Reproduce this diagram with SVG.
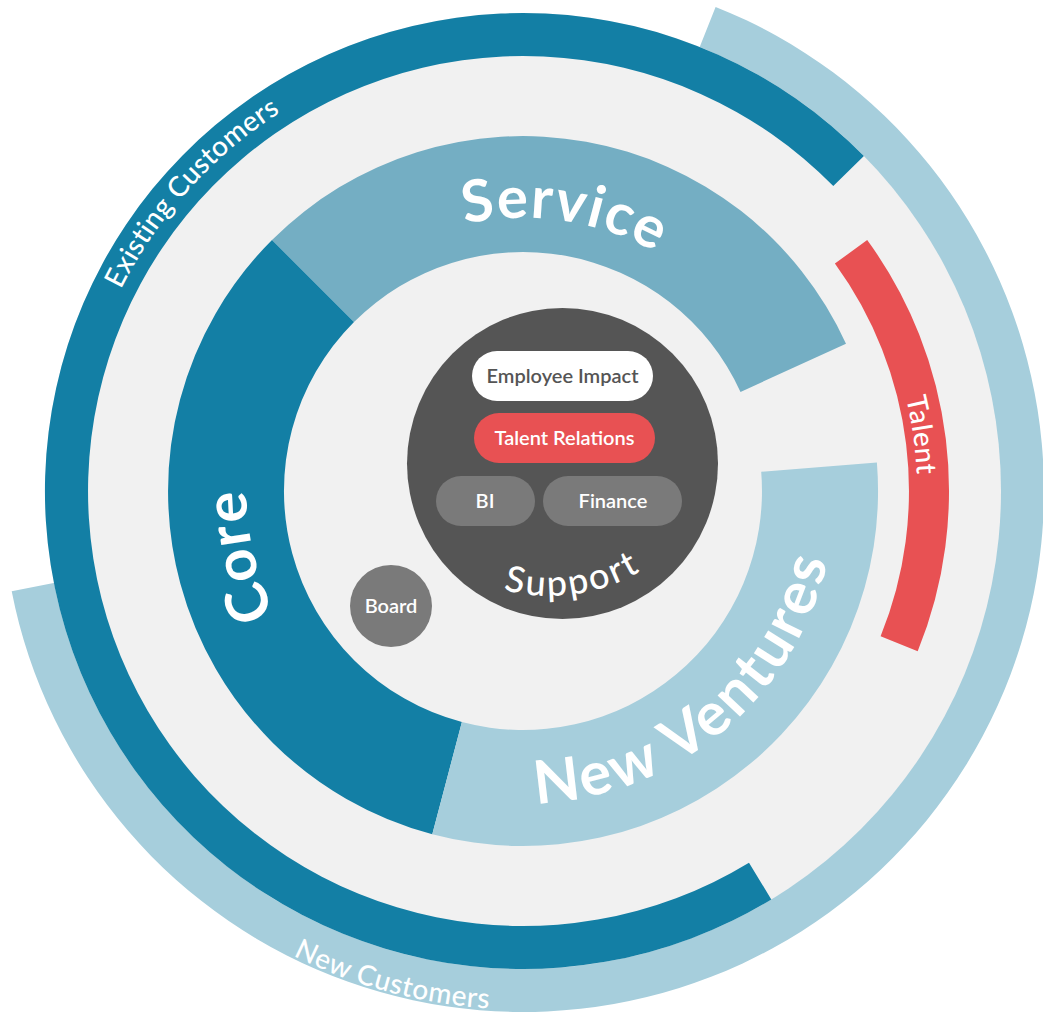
<svg xmlns="http://www.w3.org/2000/svg" width="1043" height="1013" viewBox="0 0 1043 1013">
<style>
text{font-family:Lato,"Liberation Sans",sans-serif;fill:#fff}
.big{font-weight:700}
.ring{font-weight:500;font-size:28px}
.pill{font-size:20px;font-weight:600;text-anchor:middle}
.dark{fill:#137fa5}.mid{fill:#74aec3}.light{fill:#a6cedc}.red{fill:#e85153}.grey{fill:#7a7a7a}
</style>
<defs>
<path id="pService" d="M 257.5 427.3 A 273 273 0 0 1 795.5 507.7"/>
<path id="pCore" d="M 586.0 763.8 A 280 280 0 0 1 460.0 218.2"/>
<path id="pNV" d="M 287.5 695.7 A 312 312 0 0 0 765.5 294.7"/>
<path id="pExisting" d="M 218.1 817.9 A 447 447 0 0 1 816.3 153.6"/>
<path id="pNew" d="M 28.1 367.6 A 503 503 0 0 0 1013.2 631.6"/>
<path id="pTalent" d="M 474.7 98.0 A 396 396 0 0 1 584.9 882.1"/>
<path id="pSupport" d="M 373.7 442.8 A 178 178 0 0 0 726.3 393.2"/>
</defs>
<rect width="1043" height="1013" fill="#fff"/>
<g id="new-customers">
<path class="light" d="M 715.6 6.9 A 521 521 0 1 1 11.7 591.3 L 54.9 582.8 A 477 477 0 1 0 699.4 47.8 Z"/>
</g>
<circle id="disc" cx="523" cy="491" r="478" fill="#f1f1f1"/>
<g id="new-customers-label"><text class="ring" letter-spacing="0.6"><textPath href="#pNew" startOffset="50%" text-anchor="middle">New Customers</textPath></text></g>
<g id="existing-customers">
<path class="dark" d="M 771.3 899.4 A 478 478 0 1 1 863.9 156.0 L 833.3 186.1 A 435 435 0 1 0 749.0 862.7 Z"/>
<text class="ring" letter-spacing="0.3"><textPath href="#pExisting" startOffset="50%" text-anchor="middle">Existing Customers</textPath></text>
</g>
<g id="talent">
<path class="red" d="M 867.2 240.0 A 426 426 0 0 1 917.7 651.3 L 880.6 636.2 A 386 386 0 0 0 834.9 263.6 Z"/>
<text class="ring" letter-spacing="0.6"><textPath href="#pTalent" startOffset="50%" text-anchor="middle">Talent</textPath></text>
</g>
<g id="service">
<path class="mid" d="M 272.0 240.0 A 355 355 0 0 1 846.0 343.8 L 740.5 391.9 A 239 239 0 0 0 354.0 322.0 Z"/>
<text class="big" font-size="58" letter-spacing="1.5"><textPath href="#pService" startOffset="50%" text-anchor="middle">Service</textPath></text>
</g>
<g id="core">
<path class="dark" d="M 432.3 834.2 A 355 355 0 0 1 272.0 240.0 L 354.0 322.0 A 239 239 0 0 0 461.9 722.1 Z"/>
<text class="big" font-size="58" letter-spacing="1.5"><textPath href="#pCore" startOffset="50%" text-anchor="middle">Core</textPath></text>
</g>
<g id="new-ventures">
<path class="light" d="M 876.9 462.5 A 355 355 0 0 1 432.3 834.2 L 461.9 722.1 A 239 239 0 0 0 761.2 471.8 Z"/>
<text class="big" font-size="60" letter-spacing="3"><textPath href="#pNV" startOffset="50%" text-anchor="middle">New Ventures</textPath></text>
</g>
<g id="support">
<circle cx="562.5" cy="463.5" r="155.5" fill="#555"/>
<text font-size="36" font-weight="500" letter-spacing="2.5"><textPath href="#pSupport" startOffset="50%" text-anchor="middle">Support</textPath></text>
</g>
<g id="employee-impact">
<rect x="472" y="351" width="181" height="50" rx="25" fill="#fff"/>
<text class="pill" x="562.5" y="383" style="fill:#555">Employee Impact</text>
</g>
<g id="talent-relations">
<rect class="red" x="474" y="413" width="181" height="50" rx="25"/>
<text class="pill" x="564.5" y="445">Talent Relations</text>
</g>
<g id="bi">
<rect class="grey" x="436" y="476" width="99" height="50" rx="25"/>
<text class="pill" x="485" y="508">BI</text>
</g>
<g id="finance">
<rect class="grey" x="543" y="476" width="139" height="50" rx="25"/>
<text class="pill" x="613" y="508">Finance</text>
</g>
<g id="board">
<circle class="grey" cx="391" cy="606" r="41"/>
<text class="pill" x="391" y="613">Board</text>
</g>
</svg>
